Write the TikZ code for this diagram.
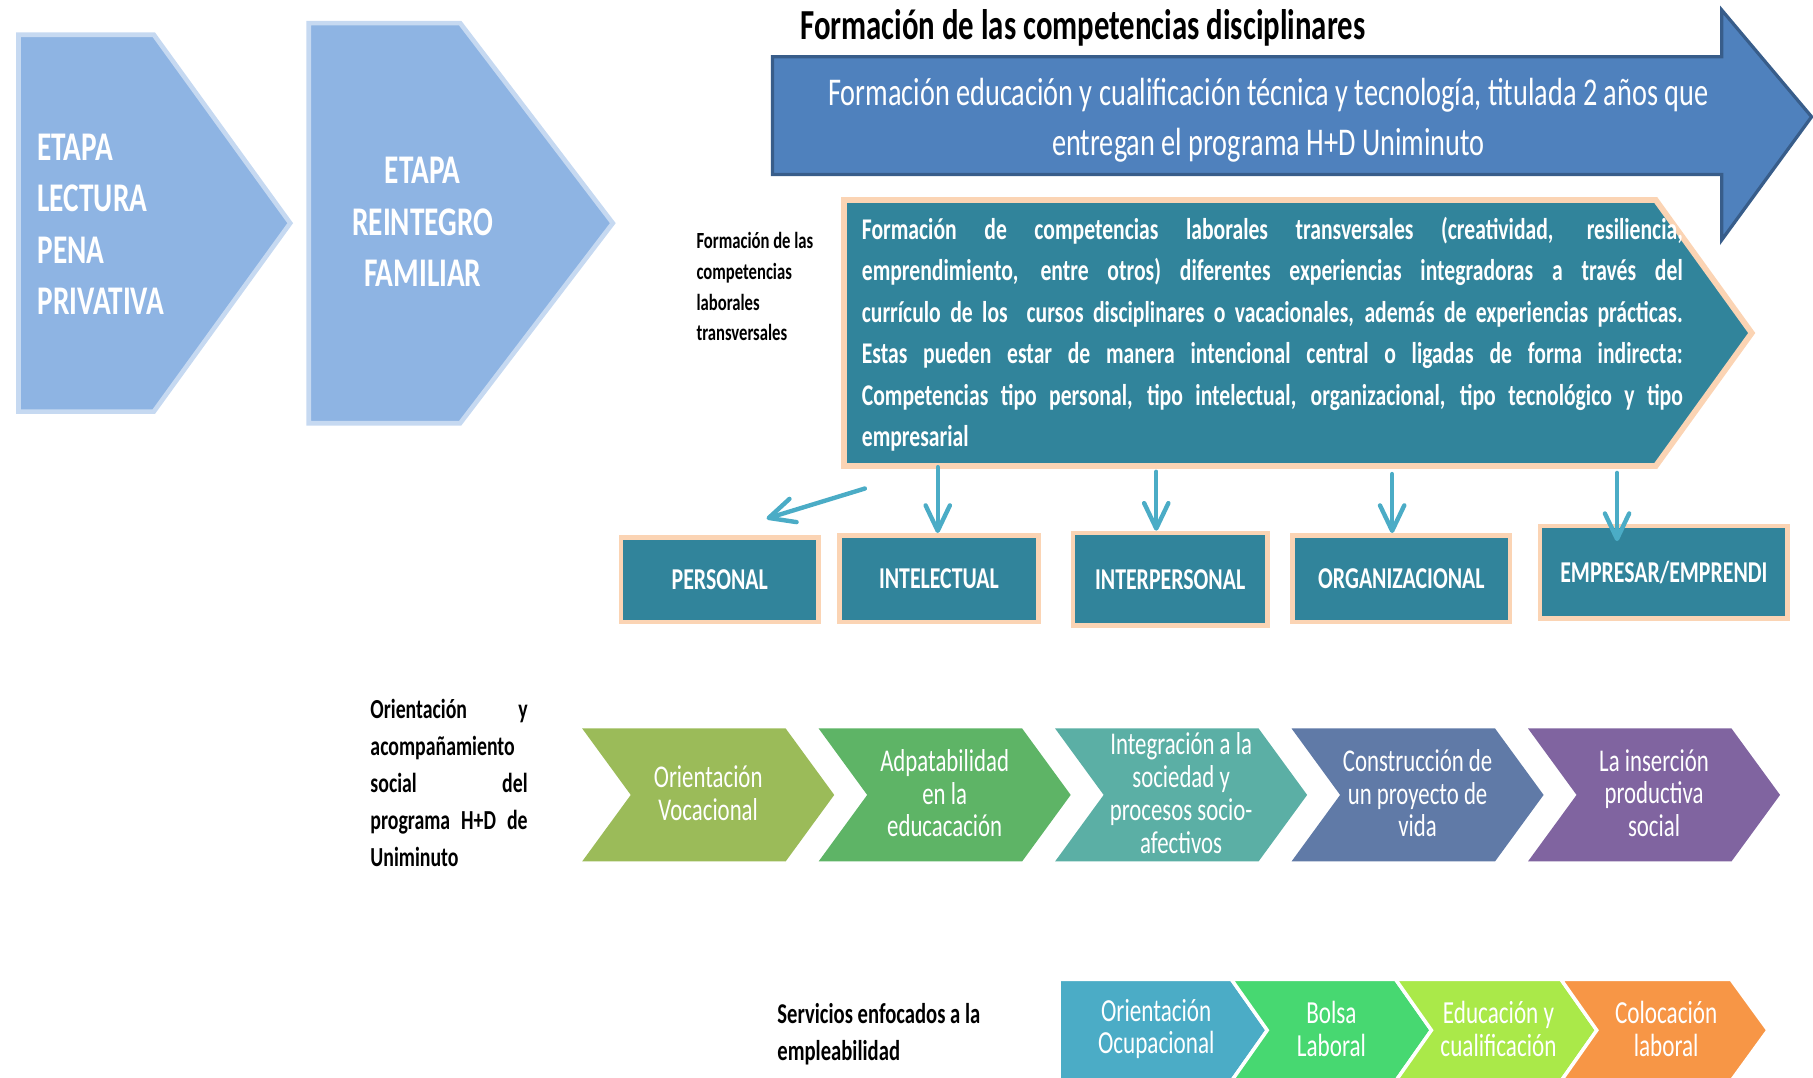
\documentclass[tikz,border=0pt]{standalone}
\usepackage{fontspec}
\setmainfont{Carlito}[FakeStretch=0.72]
\usetikzlibrary{arrows.meta}
\definecolor{stagefill}{HTML}{8EB4E3}
\definecolor{stageborder}{HTML}{C6D9F1}
\definecolor{bigblue}{HTML}{4F81BD}
\definecolor{bigborder}{HTML}{385D8A}
\definecolor{tealc}{HTML}{31849B}
\definecolor{peach}{HTML}{FBD4B4}
\definecolor{arrowblue}{HTML}{4BACC6}
\definecolor{pA}{HTML}{9BBB59}
\definecolor{pB}{HTML}{5EB466}
\definecolor{pC}{HTML}{5BAFA5}
\definecolor{pD}{HTML}{607AA7}
\definecolor{pE}{HTML}{8064A0}
\definecolor{qA}{HTML}{4BACC6}
\definecolor{qB}{HTML}{47D871}
\definecolor{qC}{HTML}{AAE949}
\definecolor{qD}{HTML}{F79646}
\begin{document}
\begin{tikzpicture}[x=0.5pt,y=-0.5pt,
  stageshape/.style={fill=stagefill, draw=stageborder, line width=2pt, line join=miter},
  stagetext/.style={text=white, inner sep=0pt, font=\bfseries\fontsize{17.6}{22.2}\selectfont},
  bigarrow/.style={fill=bigblue, draw=bigborder, line width=1.4pt, line join=miter},
  bigtext/.style={text=white, inner sep=0pt, align=center, font=\fontsize{17}{22}\selectfont},
  titletext/.style={text=black, inner sep=0pt, font=\bfseries\fontsize{18.5}{20}\selectfont},
  tealshape/.style={fill=tealc, draw=peach, line width=2.5pt, line join=miter},
  paratext/.style={text=white, inner sep=0pt, align=left, font=\bfseries\fontsize{13}{17.9}\selectfont},
  sidetext/.style={text=black, inner sep=0pt, align=left, font=\bfseries\fontsize{10}{13.3}\selectfont},
  labeltext/.style={text=black, inner sep=0pt, align=left, font=\bfseries\fontsize{11.9}{16}\selectfont},
  tealbox/.style={rectangle, fill=tealc, draw=peach, line width=2pt, text=white, inner sep=0pt, font=\bfseries\fontsize{13.1}{15}\selectfont},
  conn/.style={draw=arrowblue, line width=1.9pt, line cap=round, -{Straight Barb[length=11pt,width=10.5pt,round]}},
  proc/.style={line join=miter},
  proctext/.style={text=white, inner sep=0pt, align=center, font=\fontsize{13.7}{14.2}\selectfont},
  serv/.style={draw=white, line width=1.5pt, line join=miter},
  servtext/.style={text=white, inner sep=0pt, align=center, font=\fontsize{13.9}{14.2}\selectfont}
]
\useasboundingbox (0,0) rectangle (1568,932);
\clip (0,0) rectangle (1568,932);

% stage chevrons
\path[stageshape] (16,30) -- (133,30) -- (251,193) -- (133,356) -- (16,356) -- cycle;
\path[stageshape] (267,20) -- (398,20) -- (530,193) -- (398,366) -- (267,366) -- cycle;
\node[stagetext, anchor=west, align=left] (stA) at (32,194) {ETAPA\\LECTURA\\PENA\\PRIVATIVA};
\node[stagetext, align=center] (stB) at (365.6,192) {ETAPA\\REINTEGRO\\FAMILIAR};

% big arrow
\path[bigarrow] (668,49) -- (1489,49) -- (1489,8.6) -- (1566.8,101) -- (1489,207.6) -- (1489,151) -- (668,151) -- cycle;
\node[bigtext] (bigt) at (1097,104) {Formación educación y cualificación técnica y tecnología, titulada 2 años que\\entregan el programa H+D Uniminuto};
\node[titletext] (title) at (936.5,24) {Formación de las competencias disciplinares};

% teal chevron
\path[tealshape] (730,173) -- (1432,173) -- (1515,288) -- (1432,403) -- (730,403) -- cycle;
\node[paratext, anchor=west] (para) at (745,289) {%
\makebox[355pt][s]{Formación de competencias laborales transversales (creatividad, resiliencia,}\\
\makebox[355pt][s]{emprendimiento, entre otros) diferentes experiencias integradoras a través del}\\
\makebox[355pt][s]{currículo de los\ \ cursos disciplinares o vacacionales, además de experiencias prácticas.}\\
\makebox[355pt][s]{Estas pueden estar de manera intencional central o ligadas de forma indirecta:}\\
\makebox[355pt][s]{Competencias tipo personal, tipo intelectual, organizacional, tipo tecnológico y tipo}\\
empresarial};
\node[sidetext, anchor=west] (side) at (602,248) {Formación de las\\competencias\\laborales\\transversales};

% boxes
\node[tealbox, minimum width=85.5pt, minimum height=36.5pt] (b1) at (622.5,501.5) {PERSONAL};
\node[tealbox, minimum width=86pt, minimum height=37.5pt] (b2) at (812,500.5) {INTELECTUAL};
\node[tealbox, minimum width=84pt, minimum height=40pt] (b3) at (1012,501) {INTERPERSONAL};
\node[tealbox, minimum width=94pt, minimum height=37.5pt] (b4) at (1212,500.5) {ORGANIZACIONAL};
\node[tealbox, minimum width=107pt, minimum height=40pt] (b5) at (1439,495) {EMPRESAR/EMPRENDI};

\coordinate (s1) at (748,422.5);
\coordinate (e1) at (663,448.5);
\coordinate (s2) at (811,404);
\coordinate (s3) at (1000,408);
\coordinate (s4) at (1204,410);
\coordinate (s5) at (1398.5,409);
\coordinate (e5) at (1398.5,468);
\draw[conn] (s1) -- (e1);
\draw[conn] (s2) -- (s2 |- b2.north);
\draw[conn] (s3) -- (s3 |- b3.north);
\draw[conn] (s4) -- (s4 |- b4.north);
\draw[conn] (s5) -- (e5);

% orientation row
\node[labeltext, anchor=west] (orl) at (320,677.5) {%
\makebox[68pt][s]{Orientación y}\\
acompañamiento\\
\makebox[68pt][s]{social del}\\
\makebox[68pt][s]{programa H+D de}\\
Uniminuto};
\path[proc, fill=pA] (503.5,630) -- (679.5,630) -- (721.5,687.5) -- (679.5,745) -- (503.5,745) -- (545.5,687.5) -- cycle;
\path[proc, fill=pB] (708,630) -- (884,630) -- (926,687.5) -- (884,745) -- (708,745) -- (750,687.5) -- cycle;
\path[proc, fill=pC] (912.5,630) -- (1088.5,630) -- (1130.5,687.5) -- (1088.5,745) -- (912.5,745) -- (954.5,687.5) -- cycle;
\path[proc, fill=pD] (1117,630) -- (1293,630) -- (1335,687.5) -- (1293,745) -- (1117,745) -- (1159,687.5) -- cycle;
\path[proc, fill=pE] (1321.5,630) -- (1497.5,630) -- (1539.5,687.5) -- (1497.5,745) -- (1321.5,745) -- (1363.5,687.5) -- cycle;
\node[proctext] (pt1) at (612.5,686) {Orientación\\Vocacional};
\node[proctext] (pt2) at (817,686) {Adpatabilidad\\en la\\educacación};
\node[proctext] (pt3) at (1021.5,686) {Integración a la\\sociedad y\\procesos socio-\\afectivos};
\node[proctext] (pt4) at (1226,686) {Construcción de\\un proyecto de\\vida};
\node[proctext] (pt5) at (1430.5,686) {La inserción\\productiva\\social};

% services row
\node[labeltext, anchor=west, font=\bfseries\fontsize{12.4}{16}\selectfont] (serl) at (672,894) {Servicios enfocados a la\\empleabilidad};
\path[serv, fill=qA] (916,847) -- (1065,847) -- (1096,891) -- (1065,935) -- (916,935) -- cycle;
\path[serv, fill=qB] (1065,847) -- (1207,847) -- (1238,891) -- (1207,935) -- (1065,935) -- (1096,891) -- cycle;
\path[serv, fill=qC] (1207,847) -- (1350,847) -- (1381,891) -- (1350,935) -- (1207,935) -- (1238,891) -- cycle;
\path[serv, fill=qD] (1350,847) -- (1497,847) -- (1529,891) -- (1497,935) -- (1350,935) -- (1381,891) -- cycle;
\node[servtext] (st1) at (1000,890) {Orientación\\Ocupacional};
\node[servtext] (st2) at (1151.5,890) {Bolsa\\Laboral};
\node[servtext] (st3) at (1296,890) {Educación y\\cualificación};
\node[servtext] (st4) at (1441,890) {Colocación\\laboral};
\end{tikzpicture}
\end{document}
